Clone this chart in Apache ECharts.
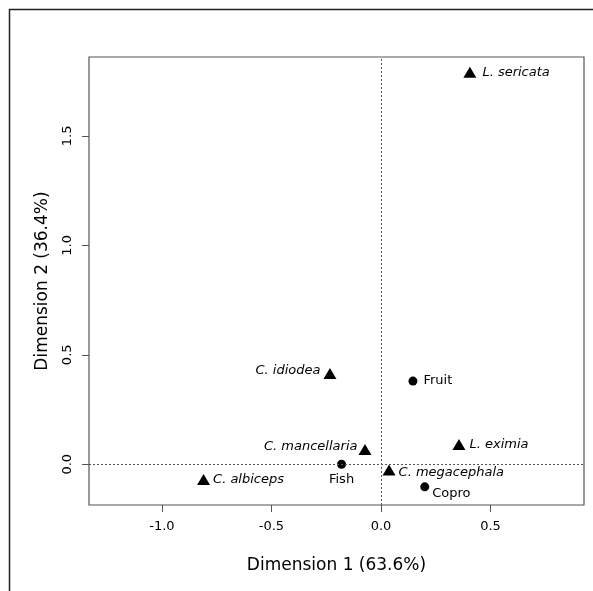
<!DOCTYPE html>
<html>
<head>
<meta charset="utf-8">
<script src="https://cdn.jsdelivr.net/npm/echarts@6/dist/echarts.min.js"></script>
<style>
  html, body { margin: 0; padding: 0; background: #fff; }
  #chart { width: 593px; height: 591px; }
</style>
</head>
<body>
<div id="chart"></div>
<script>
// species (triangles) and food substrates (circles)
const speciesNames = ['L. sericata', 'C. idiodea', 'L. eximia', 'C. mancellaria', 'C. albiceps', 'C. megacephala']
const speciesX = [0.406, -0.233, 0.356, -0.073, -0.81, 0.037]
const speciesY = [1.79, 0.415, 0.09, 0.068, -0.07, -0.026]

const foodNames = ['Fruit', 'Fish', 'Copro']
const foodX = [0.146, -0.18, 0.2]
const foodY = [0.38, 0.0, -0.103]

const xTicks = [-1.0, -0.5, 0.0, 0.5]
const yTicks = [0.0, 0.5, 1.0, 1.5]

// label placement per point
const labelPos = {
  'L. sericata': { position: 'right', distance: 6 },
  'C. idiodea': { position: 'left', distance: 3, offset: [0, -3] },
  'L. eximia': { position: 'right', distance: 4 },
  'C. mancellaria': { position: 'left', distance: 1, offset: [0, -3] },
  'C. albiceps': { position: 'right', distance: 3 },
  'C. megacephala': { position: 'right', distance: 3, offset: [0, 3] },
  'Fruit': { position: 'right', distance: 6 },
  'Fish': { position: 'bottom', distance: 4 },
  'Copro': { position: 'right', distance: 3, offset: [0, 7] }
}

const fontFamily = 'DejaVu Sans'

function buildPoints(names, xs, ys, italic) {
  return names.map((n, i) => ({
    name: n,
    value: [xs[i], ys[i]],
    label: Object.assign({
      show: true,
      formatter: '{b}',
      color: '#000',
      fontSize: 13,
      fontStyle: italic ? 'italic' : 'normal',
      fontFamily: fontFamily
    }, labelPos[n])
  }))
}

const chart = echarts.init(document.getElementById('chart'))

chart.setOption({
  animation: false,
  backgroundColor: '#fff',
  graphic: [{
    type: 'rect',
    shape: { x: 9.5, y: 9.5, width: 620, height: 620 },
    style: { fill: 'none', stroke: '#222', lineWidth: 1.5 },
    silent: true
  }],
  grid: {
    left: 89,
    right: 9,
    top: 57,
    bottom: 86,
    show: true,
    borderColor: '#555',
    borderWidth: 1.2,
    backgroundColor: 'transparent'
  },
  xAxis: {
    type: 'value',
    min: -1.333,
    max: 0.927,
    name: 'Dimension 1 (63.6%)',
    nameLocation: 'middle',
    nameGap: 52,
    nameTextStyle: { fontSize: 17, color: '#000', fontFamily: fontFamily },
    axisLine: { show: false, onZero: false },
    axisTick: {
      show: true,
      inside: false,
      length: 7,
      customValues: xTicks,
      lineStyle: { color: '#555' }
    },
    axisLabel: {
      customValues: xTicks,
      formatter: v => v.toFixed(1),
      margin: 15,
      fontSize: 13,
      color: '#000',
      fontFamily: fontFamily
    },
    splitLine: { show: false }
  },
  yAxis: {
    type: 'value',
    min: -0.186,
    max: 1.86,
    name: 'Dimension 2 (36.4%)',
    nameLocation: 'middle',
    nameRotate: 90,
    nameGap: 38,
    nameTextStyle: { fontSize: 17, color: '#000', fontFamily: fontFamily },
    axisLine: { show: false, onZero: false },
    axisTick: {
      show: true,
      inside: false,
      length: 7,
      customValues: yTicks,
      lineStyle: { color: '#555' }
    },
    axisLabel: {
      customValues: yTicks,
      formatter: v => v.toFixed(1),
      rotate: 90,
      margin: 15,
      fontSize: 13,
      color: '#000',
      fontFamily: fontFamily
    },
    splitLine: { show: false }
  },
  series: [{
    name: 'axes',
    type: 'scatter',
    data: [],
    silent: true,
    markLine: {
      silent: true,
      symbol: ['none', 'none'],
      label: { show: false },
      lineStyle: { type: [2, 2], color: '#555', width: 1 },
      data: [{ xAxis: 0 }, { yAxis: 0 }]
    }
  }, {
    name: 'Species',
    type: 'scatter',
    symbol: 'triangle',
    symbolSize: [13, 11],
    itemStyle: { color: '#000', opacity: 1 },
    data: buildPoints(speciesNames, speciesX, speciesY, true)
  }, {
    name: 'Food',
    type: 'scatter',
    symbol: 'circle',
    symbolSize: 9,
    itemStyle: { color: '#000', opacity: 1 },
    data: buildPoints(foodNames, foodX, foodY, false)
  }]
})
</script>
</body>
</html>
